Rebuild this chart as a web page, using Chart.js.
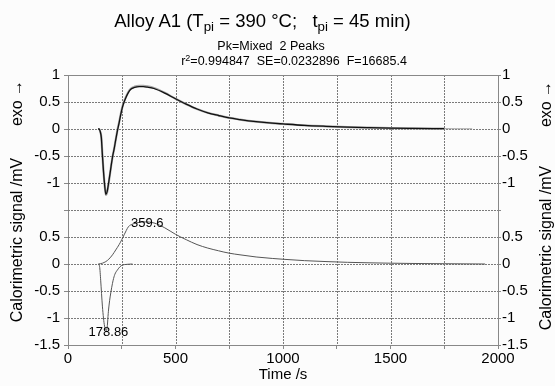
<!DOCTYPE html>
<html><head><meta charset="utf-8">
<script src="https://cdn.jsdelivr.net/npm/chart.js@4.4.0/dist/chart.umd.min.js"></script>
<style>
html,body{margin:0;padding:0;background:#fcfcfc;}
#wrap{position:relative;width:555px;height:386px;font-family:"Liberation Sans",Arial,sans-serif;color:#000;overflow:hidden;}
canvas{position:absolute;left:0;top:0;}
.t{position:absolute;white-space:pre;text-align:center;line-height:1;}
.t sub{font-size:72%;line-height:0;vertical-align:-0.32em;}
.t sup{font-size:72%;line-height:0;vertical-align:0.45em;}
</style></head>
<body>
<div id="wrap">
<canvas id="c" width="555" height="386"></canvas>
<div class="t" style="left:0;width:525px;top:12px;font-size:18.5px;">Alloy A1 (T<sub>pi</sub> = 390 °C;   t<sub>pi</sub> = 45 min)</div>
<div class="t" style="left:0;width:542px;top:40px;font-size:12.5px;">Pk=Mixed  2 Peaks</div>
<div class="t" style="left:94px;width:400px;top:55px;font-size:12.5px;">r<sup>2</sup>=0.994847  SE=0.0232896  F=16685.4</div>
</div>
<script>
// ---- data (upper panel: measured and fitted sum; lower panel: the two fitted peaks) ----
const timesUpper    = [140,145,150,155,160,165,170,176,182,190,200,207,215,222,230,238,245,253,261,269,280,292,310,331,350,370,400,450,500,550,600,650,700,750,800,875,950,1000,1100,1200,1300,1400,1500,1600,1750];
const measuredUpper = [0,0,-0.05,-0.15,-0.48,-0.78,-1.02,-1.22,-1.17,-0.98,-0.7,-0.52,-0.36,-0.2,-0.02,0.13,0.27,0.41,0.51,0.59,0.68,0.745,0.785,0.8,0.8,0.79,0.76,0.67,0.56,0.46,0.37,0.3,0.25,0.205,0.175,0.137,0.108,0.094,0.068,0.05,0.035,0.025,0.017,0.012,0.006];
const fitUpper      = [0,0,-0.05,-0.16,-0.48,-0.78,-1.02,-1.21,-1.16,-0.97,-0.7,-0.52,-0.36,-0.2,-0.03,0.12,0.26,0.4,0.5,0.58,0.67,0.735,0.77,0.785,0.785,0.775,0.75,0.665,0.56,0.46,0.37,0.3,0.25,0.205,0.175,0.137,0.108,0.094,0.068,0.05,0.035,0.025,0.017,0.012,0.006];
const timesTail     = [1750,1800,1880];
const measuredTail  = [0.006,0.004,0.003];

const timesPeak1 = [141,147,152,156,160,165,170,176,179,183,187,191,196,203,210,218,230,242,253,270,285,300];
const peak1      = [0,-0.05,-0.3,-0.55,-0.78,-1.0,-1.15,-1.22,-1.23,-1.14,-0.92,-0.76,-0.61,-0.44,-0.3,-0.19,-0.11,-0.05,-0.02,-0.008,-0.003,0];

const timesPeak2 = [141,150,160,176,190,207,222,238,250,261,271,281,300,330,359.6,400,450,500,550,600,650,700,750,800,875,950,1000,1100,1200,1300,1400,1500,1600,1750,1940];
const peak2      = [0,0.005,0.015,0.045,0.09,0.17,0.26,0.36,0.45,0.54,0.62,0.69,0.74,0.77,0.78,0.76,0.67,0.55,0.45,0.36,0.295,0.245,0.2,0.17,0.13,0.103,0.088,0.062,0.045,0.031,0.022,0.015,0.01,0.005,0];

const UPPER_OFFSET = 2.5;   // the upper panel sits 2.5 units above the lower one on the shared axis
const yTickValues = [-1.5,-1,-0.5,0,0.5,1,1.5,2,2.5,3,3.5];
const yTickLabels = ["-1.5","-1","-0.5","0","0.5","","-1","-0.5","0","0.5","1"];
const xLabelValues = [0,500,1000,1500,2000];
const peakLabels = ["178.86","359.6"];
const peakLabelTimes = [178.86,359.6];
const peakLabelValues = [-1.23,0.78];
const yTitle = "Calorimetric signal /mV";
const yTitleExo = "exo \u2192";
const xTitle = "Time /s";

// ---- build ----
const pts = (ts, vs, off) => ts.map((t,i)=>({x:t, y:vs[i]+(off||0)}));
const FONT = '"Liberation Sans", Arial, sans-serif';

// dotted grid drawn from the scales' own tick positions
const dottedGrid = {
  id:'dottedGrid',
  beforeDatasetsDraw(chart){
    const ctx = chart.ctx, a = chart.chartArea, xs = chart.scales.x, ys = chart.scales.y;
    ctx.save();
    ctx.strokeStyle = '#7a7a7a'; ctx.lineWidth = 1;
    ctx.beginPath();
    xs.ticks.forEach(t=>{
      const px = Math.round(xs.getPixelForValue(t.value)) + 0.5;
      if (px <= a.left+1 || px >= a.right-1) return;
      for (let y = a.top; y < a.bottom; y += 3) { ctx.moveTo(px, y); ctx.lineTo(px, Math.min(y+2, a.bottom)); }
    });
    ys.ticks.forEach(t=>{
      const py = Math.round(ys.getPixelForValue(t.value)) + 0.5;
      if (py <= a.top+1 || py >= a.bottom-1) return;
      for (let x = a.left; x < a.right; x += 3) { ctx.moveTo(x, py); ctx.lineTo(Math.min(x+2, a.right), py); }
    });
    ctx.stroke();
    ctx.restore();
  }
};

const annot = {
  id:'annot',
  afterDraw(chart){
    const ctx = chart.ctx, xs = chart.scales.x, ys = chart.scales.y, a = chart.chartArea;
    ctx.save();
    ctx.strokeStyle = '#888'; ctx.lineWidth = 1;
    ctx.beginPath(); ctx.moveTo(a.left, a.top+0.5); ctx.lineTo(a.right, a.top+0.5); ctx.stroke();
    ctx.fillStyle = '#000';
    ctx.font = '13px ' + FONT;
    ctx.textAlign = 'center'; ctx.textBaseline = 'middle';
    peakLabelTimes.forEach((t,i)=>{
      ctx.fillText(peakLabels[i], xs.getPixelForValue(t)+2, ys.getPixelForValue(peakLabelValues[i])+2);
    });
    const rot = (text, x, y) => { ctx.save(); ctx.translate(x,y); ctx.rotate(-Math.PI/2); ctx.fillText(text,0,0); ctx.restore(); };
    ctx.font = '16px ' + FONT;
    rot(yTitle, 18, 240); rot(yTitleExo, 18, 103);
    rot(yTitle, 547, 248); rot(yTitleExo, 547, 104);
    ctx.restore();
  }
};

const yTicks = {
  stepSize:0.5, padding:4, color:'#000', font:{family:FONT,size:15},
  callback:(v)=>{ const i = yTickValues.findIndex(x=>Math.abs(x-v)<1e-6); return i<0?'':yTickLabels[i]; }
};

new Chart(document.getElementById('c'), {
  type:'line',
  data:{ datasets:[
    {data:pts(timesUpper, fitUpper, UPPER_OFFSET), borderColor:'#111', borderWidth:1.3, pointRadius:0, cubicInterpolationMode:'monotone'},
    {data:pts(timesUpper, measuredUpper, UPPER_OFFSET), borderColor:'#a8a8a8', borderWidth:2.2, pointRadius:0, cubicInterpolationMode:'monotone'},
    {data:pts(timesTail, measuredTail, UPPER_OFFSET), borderColor:'#a0a0a0', borderWidth:1, pointRadius:0},
    {data:pts(timesPeak1, peak1), borderColor:'#555', borderWidth:1, pointRadius:0, cubicInterpolationMode:'monotone'},
    {data:pts(timesPeak2, peak2), borderColor:'#555', borderWidth:1, pointRadius:0, cubicInterpolationMode:'monotone'}
  ]},
  options:{
    responsive:false, animation:false, events:[],
    layout:{padding:{left:0,right:0,top:75,bottom:0}},
    plugins:{legend:{display:false}, tooltip:{enabled:false}, title:{display:false}},
    scales:{
      x:{type:'linear', min:0, max:2000, position:'bottom',
         grid:{drawOnChartArea:false, tickLength:4, tickColor:'#888'},
         border:{color:'#888'},
         ticks:{stepSize:250, padding:1, maxRotation:0, autoSkip:false, color:'#000', font:{family:FONT,size:15},
                callback:(v)=> xLabelValues.includes(v) ? String(v) : ''},
         title:{display:true, text:xTitle, color:'#000', font:{family:FONT,size:15}, padding:{top:0,bottom:2}},
         afterFit:(s)=>{ s.height = 41; }},
      y:{type:'linear', min:-1.5, max:3.5, position:'left',
         grid:{drawOnChartArea:false, tickLength:4, tickColor:'#888'},
         border:{color:'#888'},
         ticks:yTicks, afterFit:(s)=>{ s.width = 68; }},
      y2:{type:'linear', min:-1.5, max:3.5, position:'right',
         grid:{drawOnChartArea:false, tickLength:3, tickColor:'#888'},
         border:{color:'#888'},
         ticks:Object.assign({}, yTicks, {padding:1}), afterFit:(s)=>{ s.width = 57; }}
    }
  },
  plugins:[dottedGrid, annot]
});
</script>
</body></html>
